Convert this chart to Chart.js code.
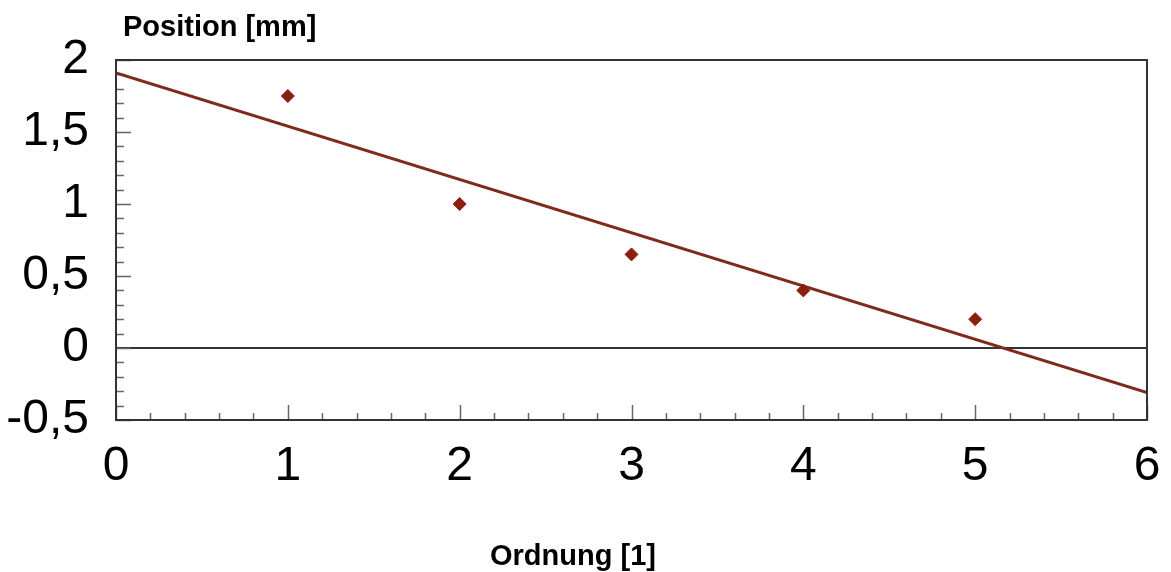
<!DOCTYPE html>
<html>
<head>
<meta charset="utf-8">
<script src="https://cdn.jsdelivr.net/npm/chart.js@4"></script>
<style>
  html, body { margin: 0; padding: 0; background: #fff; }
  #wrap { width: 1171px; height: 572px; position: relative; }
</style>
</head>
<body>
<div id="wrap"><canvas id="c" width="1171" height="572"></canvas></div>
<script>
// ---- data ----
const pointX = [1, 2, 3, 4, 5];
const pointY = [1.75, 1.0, 0.65, 0.4, 0.2];
const fitX = [0, 6];
const fitY = [1.91, -0.31];
const xTickValues = [0, 1, 2, 3, 4, 5, 6];
const yTickValues = [-0.5, 0, 0.5, 1, 1.5, 2];
const yTitle = 'Position [mm]';
const xTitle = 'Ordnung [1]';

const FONT = "'Liberation Sans', Arial, sans-serif";

const frame = {
  id: 'frame',
  beforeDatasetsDraw(chart) {
    const { ctx, chartArea: a, scales } = chart;
    const xs = scales.x, ys = scales.y;
    ctx.save();
    ctx.strokeStyle = '#666';
    ctx.lineWidth = 1.5;
    // inner ticks on x axis (bottom)
    for (let i = 0; i <= 30; i++) {
      const v = i / 5;
      const px = Math.round(xs.getPixelForValue(v)) + 0.5;
      const len = (i % 5 === 0) ? 15 : 7;
      ctx.beginPath();
      ctx.moveTo(px, a.bottom);
      ctx.lineTo(px, a.bottom - len);
      ctx.stroke();
    }
    // inner ticks on y axis (left)
    for (let i = -5; i <= 20; i++) {
      const v = i / 10;
      const py = Math.round(ys.getPixelForValue(v)) + 0.5;
      const len = (i % 5 === 0) ? 15 : 8;
      ctx.beginPath();
      ctx.moveTo(a.left, py);
      ctx.lineTo(a.left + len, py);
      ctx.stroke();
    }
    ctx.restore();
  },
  afterDraw(chart) {
    const { ctx, chartArea: a } = chart;
    ctx.save();
    ctx.strokeStyle = '#333';
    ctx.lineWidth = 2;
    ctx.strokeRect(a.left, a.top, a.right - a.left, a.bottom - a.top);
    ctx.fillStyle = '#000';
    ctx.font = 'bold 29px ' + FONT;
    ctx.textBaseline = 'alphabetic';
    ctx.textAlign = 'left';
    ctx.fillText(yTitle, 123, 36);
    ctx.fillText(xTitle, 490, 565);
    ctx.restore();
  }
};

new Chart(document.getElementById('c'), {
  type: 'scatter',
  data: {
    datasets: [
      {
        label: 'Messwerte',
        data: pointX.map((x, i) => ({ x, y: pointY[i] })),
        pointStyle: 'rectRot',
        pointRadius: 6.5,
        pointBackgroundColor: '#8B1E0E',
        pointBorderColor: '#8B1E0E',
        pointBorderWidth: 1,
        showLine: false,
        order: 1
      },
      {
        label: 'Regression',
        type: 'line',
        data: fitX.map((x, i) => ({ x, y: fitY[i] })),
        borderColor: '#7E2A1C',
        borderWidth: 3,
        pointRadius: 0,
        fill: false,
        order: 2
      }
    ]
  },
  options: {
    responsive: false,
    animation: false,
    devicePixelRatio: 1,
    layout: { padding: { left: 0, right: 24, top: 60, bottom: 52 } },
    plugins: {
      legend: { display: false },
      tooltip: { enabled: false },
      title: { display: false }
    },
    scales: {
      x: {
        type: 'linear',
        min: 0, max: 6,
        afterFit(s) { s.height = 100; s.paddingLeft = 0; s.paddingRight = 0; },
        afterBuildTicks(s) { s.ticks = xTickValues.map(v => ({ value: v })); },
        border: { display: false },
        grid: { display: false, drawTicks: false },
        ticks: {
          padding: 18,
          color: '#000',
          font: { family: FONT, size: 48 },
          maxRotation: 0,
          callback: v => String(v)
        }
      },
      y: {
        type: 'linear',
        min: -0.5, max: 2,
        afterFit(s) { s.width = 116; s.paddingTop = 0; s.paddingBottom = 0; },
        afterBuildTicks(s) { s.ticks = yTickValues.map(v => ({ value: v })); },
        border: { display: false },
        grid: {
          drawTicks: false,
          color: c => (c.tick && c.tick.value === 0) ? '#333' : 'rgba(0,0,0,0)',
          lineWidth: 2
        },
        ticks: {
          padding: 27,
          color: '#000',
          font: { family: FONT, size: 48 },
          callback: v => String(v).replace('.', ',')
        }
      }
    }
  },
  plugins: [frame]
});
</script>
</body>
</html>
